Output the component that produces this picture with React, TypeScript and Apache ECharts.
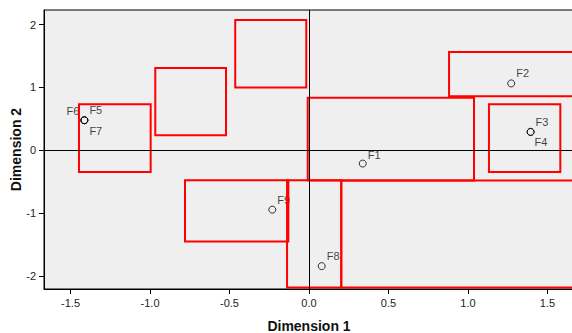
import { useEffect, useRef } from "react";
import * as echarts from "echarts";

const pointNames = ["F1", "F2", "F3", "F4", "F5", "F6", "F7", "F8", "F9"];
const pointX = [0.338, 1.272, 1.394, 1.394, -1.413, -1.413, -1.413, 0.08, -0.231];
const pointY = [-0.212, 1.064, 0.292, 0.292, 0.478, 0.478, 0.478, -1.845, -0.946];

const rectX1 = [-1.447, -0.967, -0.464, -0.008, 0.881, 1.132, -0.78, -0.138, 0.203];
const rectX2 = [-0.996, -0.522, -0.017, 1.038, 1.8, 1.581, -0.13, 0.203, 1.8];
const rectY1 = [0.734, 1.308, 2.073, 0.836, 1.563, 0.734, -0.478, -0.478, -0.48];
const rectY2 = [-0.346, 0.239, 1.0, -0.48, 0.861, -0.346, -1.451, -2.186, -2.186];

const xTicks = [-1.5, -1.0, -0.5, 0.0, 0.5, 1.0, 1.5];
const yTicks = [-2, -1, 0, 1, 2];

const FONT = "'Liberation Sans', Arial, sans-serif";

// label placement per point name (style only)
const labelPlace: Record<string, { pos: string; off: [number, number] }> = {
  F1: { pos: "right", off: [0, -9] },
  F2: { pos: "right", off: [0, -10] },
  F3: { pos: "right", off: [0, -10] },
  F4: { pos: "right", off: [-1, 10] },
  F5: { pos: "right", off: [0, -10] },
  F6: { pos: "left", off: [0, -9] },
  F7: { pos: "right", off: [0, 11] },
  F8: { pos: "right", off: [0, -10] },
  F9: { pos: "right", off: [0, -10] },
};

export default function App() {
  const ref = useRef<HTMLDivElement>(null);
  useEffect(() => {
    if (!ref.current) return;
    const chart = echarts.init(ref.current, undefined, { renderer: "svg" });
    const pts = pointNames.map((n, i) => ({
      name: n,
      value: [pointX[i], pointY[i]],
      label: {
        show: true,
        formatter: n,
        position: labelPlace[n].pos,
        distance: 1,
        offset: labelPlace[n].off,
        color: "#111",
        fontSize: 11,
        fontFamily: FONT,
      },
    }));
    const rects = rectX1.map((x1, i) => [x1, rectY1[i], rectX2[i], rectY2[i]]);
    chart.setOption({
      animation: false,
      grid: {
        left: 44,
        top: 10,
        right: -2,
        bottom: 44,
        containLabel: false,
        outerBoundsMode: "none",
        show: true,
        backgroundColor: "#efefef",
        borderColor: "#000",
        borderWidth: 1,
      },
      xAxis: {
        type: "value",
        min: -1.667,
        max: 1.667,
        splitLine: { show: false },
        axisLine: { onZero: false, lineStyle: { color: "#000", width: 1 } },
        axisTick: { show: true, length: 5, customValues: xTicks, lineStyle: { color: "#000" } },
        axisLabel: {
          customValues: xTicks,
          formatter: (v: number) => v.toFixed(1),
          color: "#222",
          fontSize: 11,
          fontFamily: FONT,
          margin: 8,
        },
        name: "Dimension 1",
        nameLocation: "middle",
        nameGap: 30,
        nameMoveOverlap: false,
        nameTextStyle: { fontWeight: "bold", fontSize: 14, color: "#111", fontFamily: FONT },
      },
      yAxis: {
        type: "value",
        min: -2.209,
        max: 2.233,
        splitLine: { show: false },
        axisLine: { show: true, onZero: false, lineStyle: { color: "#000", width: 1 } },
        axisTick: { show: true, length: 5, customValues: yTicks, lineStyle: { color: "#000" } },
        axisLabel: {
          customValues: yTicks,
          formatter: (v: number) => String(Math.round(v)),
          color: "#222",
          fontSize: 11,
          fontFamily: FONT,
          margin: 8,
        },
        name: "Dimension 2",
        nameLocation: "middle",
        nameGap: 21,
        nameRotate: 90,
        nameMoveOverlap: false,
        nameTextStyle: { fontWeight: "bold", fontSize: 14, color: "#111", fontFamily: FONT },
      },
      series: [
        {
          type: "scatter",
          z: 2,
          symbol: "circle",
          symbolSize: 7,
          itemStyle: { color: "rgba(0,0,0,0)", borderColor: "#000", borderWidth: 1 },
          data: pts,
          markLine: {
            silent: true,
            symbol: ["none", "none"],
            label: { show: false },
            lineStyle: { color: "#000", width: 1, type: "solid" },
            data: [{ xAxis: 0 }, { yAxis: 0 }],
          },
        },
        {
          type: "custom",
          z: 3,
          clip: true,
          encode: { x: [0, 2], y: [1, 3] },
          data: rects,
          renderItem: (params: any, api: any) => {
            const p1 = api.coord([api.value(0), api.value(1)]);
            const p2 = api.coord([api.value(2), api.value(3)]);
            return {
              type: "rect",
              shape: {
                x: Math.min(p1[0], p2[0]),
                y: Math.min(p1[1], p2[1]),
                width: Math.abs(p2[0] - p1[0]),
                height: Math.abs(p2[1] - p1[1]),
              },
              style: { fill: "none", stroke: "#ff0000", lineWidth: 2 },
            };
          },
        },
      ],
    });
    return () => chart.dispose();
  }, []);
  return (
    <div
      ref={ref}
      style={{ position: "fixed", left: 0, top: 0, width: 572, height: 333, background: "#fff" }}
    />
  );
}
